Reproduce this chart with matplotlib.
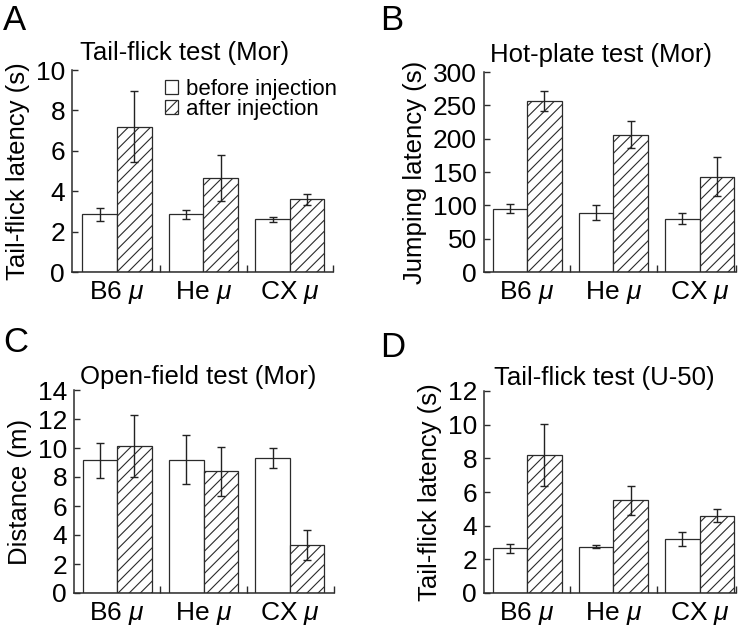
import numpy as np
import matplotlib
matplotlib.use("Agg")
import matplotlib.pyplot as plt
from matplotlib.patches import Patch

plt.rcParams['font.family'] = ['Liberation Sans', 'DejaVu Sans']
plt.rcParams['mathtext.fontset'] = 'custom'
plt.rcParams['mathtext.rm'] = 'Liberation Sans'
plt.rcParams['mathtext.it'] = 'Liberation Sans:italic'
plt.rcParams['hatch.linewidth'] = 0.8

groups = ['B6 $\\mu$', 'He $\\mu$', 'CX $\\mu$']

# A: tail-flick test (Mor)
tf_mor_before = [2.85, 2.85, 2.6]
tf_mor_before_err = [0.33, 0.22, 0.14]
tf_mor_after = [7.2, 4.65, 3.6]
tf_mor_after_err = [1.75, 1.15, 0.28]

# B: hot-plate test (Mor)
hp_before = [95, 89, 80]
hp_before_err = [7, 11, 8]
hp_after = [257, 206, 143]
hp_after_err = [15, 20, 29]

# C: open-field test (Mor)
of_before = [9.15, 9.2, 9.3]
of_before_err = [1.2, 1.7, 0.7]
of_after = [10.15, 8.4, 3.3]
of_after_err = [2.15, 1.7, 1.05]

# D: tail-flick test (U-50)
tf_u50_before = [2.65, 2.75, 3.2]
tf_u50_before_err = [0.25, 0.1, 0.4]
tf_u50_after = [8.2, 5.5, 4.6]
tf_u50_after_err = [1.85, 0.87, 0.4]

W, H = 747, 627
fig = plt.figure(figsize=(W / 100, H / 100), dpi=100)


def px_axes(left, right, top, bottom):
    return fig.add_axes([left / W, 1 - bottom / H, (right - left) / W, (bottom - top) / H])


edge = '#2b2b2b'


def panel(ax, before, before_err, after, after_err, ymax, step, ylabel, title, title_x, title_pad, xlim):
    x = np.arange(len(groups))
    w = 0.4
    ax.bar(x - w / 2, before, w, color='white', edgecolor=edge, linewidth=0.9, zorder=2)
    ax.bar(x + w / 2, after, w, color='white', edgecolor=edge, linewidth=0.9, hatch='///', zorder=2)
    ax.errorbar(x - w / 2, before, yerr=before_err, fmt='none', ecolor='#222222',
                elinewidth=1, capsize=3, capthick=1, zorder=3)
    ax.errorbar(x + w / 2, after, yerr=after_err, fmt='none', ecolor='#222222',
                elinewidth=1, capsize=3, capthick=1, zorder=3)
    ax.set_xlim(*xlim)
    ax.set_ylim(0, ymax)
    ax.set_yticks(np.arange(0, ymax + step / 2, step))
    ax.set_xticks(x)
    ax.set_xticklabels(groups)
    ax.set_xticks([0.5, 1.5, xlim[1] - 0.005], minor=True)
    ax.tick_params(axis='x', which='major', length=0, pad=5, labelsize=19)
    ax.tick_params(axis='x', which='minor', direction='in', length=5, width=1, color=edge)
    ax.tick_params(axis='y', direction='in', length=4, width=1, color=edge, pad=5, labelsize=19)
    for s in ['top', 'right']:
        ax.spines[s].set_visible(False)
    for s in ['left', 'bottom']:
        ax.spines[s].set_color(edge)
        ax.spines[s].set_linewidth(1.1)
    ax.set_ylabel(ylabel, fontsize=18.5, labelpad=4)
    ax.text(title_x, 1 + title_pad, title, transform=ax.transAxes, fontsize=18.5,
            ha='left', va='baseline')


axA = px_axes(72, 333, 70, 272)
panel(axA, tf_mor_before, tf_mor_before_err, tf_mor_after, tf_mor_after_err,
      10, 2, 'Tail-flick latency (s)', 'Tail-flick test (Mor)', 0.03, 10 / 202, (-0.52, 2.5))
handles = [Patch(facecolor='white', edgecolor=edge, linewidth=0.9),
           Patch(facecolor='white', edgecolor=edge, linewidth=0.9, hatch='///')]
axA.legend(handles, ['before injection', 'after injection'], loc='upper left',
           bbox_to_anchor=(0.355, 0.955), frameon=False, fontsize=16,
           handlelength=0.6, handleheight=0.6, handletextpad=0.35,
           labelspacing=-0.05, borderpad=0, borderaxespad=0)

axB = px_axes(484, 736, 72, 272)
panel(axB, hp_before, hp_before_err, hp_after, hp_after_err,
      300, 50, 'Jumping latency (s)', 'Hot-plate test (Mor)', 0.024, 10 / 200, (-0.5, 2.42))

axC = px_axes(74, 334, 390, 593)
panel(axC, of_before, of_before_err, of_after, of_after_err,
      14, 2, 'Distance (m)', 'Open-field test (Mor)', 0.023, 6 / 203, (-0.5, 2.51))

axD = px_axes(484, 736, 391, 593)
panel(axD, tf_u50_before, tf_u50_before_err, tf_u50_after, tf_u50_after_err,
      12, 2, 'Tail-flick latency (s)', 'Tail-flick test (U-50)', 0.04, 6 / 202, (-0.5, 2.42))

for letter, lx, ly in [('A', 3, 30), ('B', 380, 30), ('C', 3, 352), ('D', 380, 357)]:
    fig.text(lx / W, 1 - ly / H, letter, fontsize=25, ha='left', va='baseline')

fig.savefig('out.png', dpi=100)
